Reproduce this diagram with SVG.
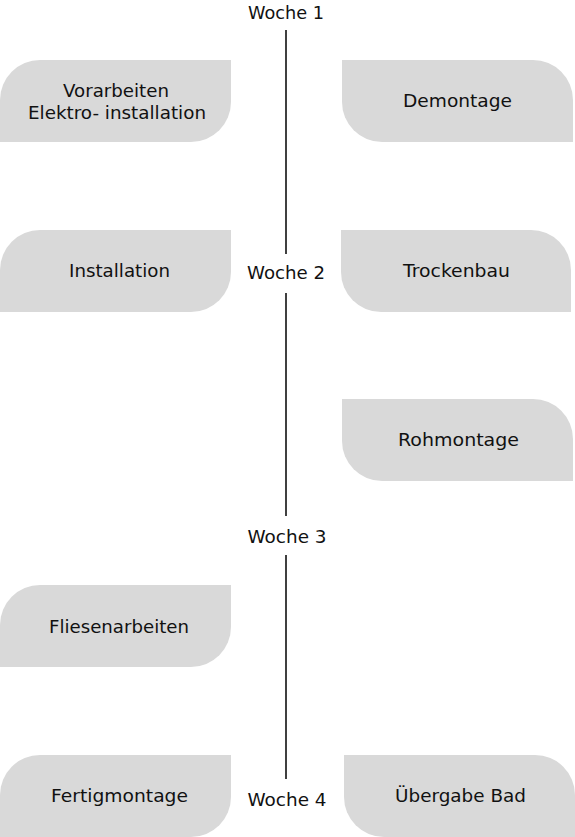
<svg xmlns="http://www.w3.org/2000/svg" width="575" height="837" viewBox="0 0 575 837">
<style>
.box{fill:#d9d9d9}
.t{font-family:"DejaVu Sans","Noto Sans",sans-serif;font-size:17px;fill:#111;text-anchor:middle}
.w{font-family:"DejaVu Sans","Noto Sans",sans-serif;font-size:17px;fill:#111;text-anchor:middle}
.ln{stroke:#000;stroke-width:1.5;fill:none}
</style>
<rect width="575" height="837" fill="#fff"/>
<g id="connectors">
<line class="ln" x1="286" y1="30" x2="286" y2="254"/>
<line class="ln" x1="286" y1="293" x2="286" y2="516"/>
<line class="ln" x1="286" y1="555" x2="286" y2="779"/>
</g>
<g id="woche1"><text class="w" x="286" y="19" textLength="76" lengthAdjust="spacingAndGlyphs">Woche 1</text></g>
<g id="woche2"><text class="w" x="286" y="279" textLength="78" lengthAdjust="spacingAndGlyphs">Woche 2</text></g>
<g id="woche3"><text class="w" x="287" y="543" textLength="79" lengthAdjust="spacingAndGlyphs">Woche 3</text></g>
<g id="woche4"><text class="w" x="287" y="806" textLength="79" lengthAdjust="spacingAndGlyphs">Woche 4</text></g>
<g id="vorarbeiten">
<path class="box" d="M40 60H231V102A40 40 0 0 1 191 142H0V100A40 40 0 0 1 40 60Z"/>
<text class="t" x="116" y="97" textLength="106" lengthAdjust="spacingAndGlyphs">Vorarbeiten</text>
<text class="t" x="117" y="119" textLength="178" lengthAdjust="spacingAndGlyphs">Elektro- installation</text>
</g>
<g id="demontage">
<path class="box" d="M342 60H533A40 40 0 0 1 573 100V142H382A40 40 0 0 1 342 102Z"/>
<text class="t" x="457.5" y="107" textLength="109" lengthAdjust="spacingAndGlyphs">Demontage</text>
</g>
<g id="installation">
<path class="box" d="M40 230H231V272A40 40 0 0 1 191 312H0V270A40 40 0 0 1 40 230Z"/>
<text class="t" x="119.5" y="277" textLength="101" lengthAdjust="spacingAndGlyphs">Installation</text>
</g>
<g id="trockenbau">
<path class="box" d="M341 230H531A40 40 0 0 1 571 270V312H381A40 40 0 0 1 341 272Z"/>
<text class="t" x="456.5" y="277" textLength="107" lengthAdjust="spacingAndGlyphs">Trockenbau</text>
</g>
<g id="rohmontage">
<path class="box" d="M342 399H533A40 40 0 0 1 573 439V481H382A40 40 0 0 1 342 441Z"/>
<text class="t" x="458.5" y="446" textLength="121" lengthAdjust="spacingAndGlyphs">Rohmontage</text>
</g>
<g id="fliesenarbeiten">
<path class="box" d="M40 585H231V627A40 40 0 0 1 191 667H0V625A40 40 0 0 1 40 585Z"/>
<text class="t" x="119" y="633" textLength="140" lengthAdjust="spacingAndGlyphs">Fliesenarbeiten</text>
</g>
<g id="fertigmontage">
<path class="box" d="M40 755H231V797A40 40 0 0 1 191 837H0V795A40 40 0 0 1 40 755Z"/>
<text class="t" x="119.5" y="802" textLength="137" lengthAdjust="spacingAndGlyphs">Fertigmontage</text>
</g>
<g id="uebergabe">
<path class="box" d="M344 755H535A40 40 0 0 1 575 795V837H384A40 40 0 0 1 344 797Z"/>
<text class="t" x="460.5" y="802" textLength="131" lengthAdjust="spacingAndGlyphs">Übergabe Bad</text>
</g>
</svg>
